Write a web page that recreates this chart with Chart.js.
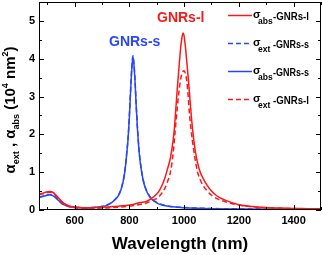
<!DOCTYPE html>
<html>
<head>
<meta charset="utf-8">
<script src="https://cdn.jsdelivr.net/npm/chart.js@4"></script>
<style>
  html, body { margin: 0; padding: 0; background: #fff; }
  #wrap { width: 323px; height: 255px; }
</style>
</head>
<body>
<div id="wrap"><canvas id="chart" width="323" height="255"></canvas></div>
<script>
// wavelength grids (nm)
const wlS = [470, 480, 490, 500, 510, 520, 530, 540, 550, 560, 580, 600, 620, 640, 660, 680, 700, 720, 740, 750,
  760, 770, 780, 785, 790, 795, 800, 805, 810, 813, 816, 820, 825, 830, 835, 840, 850, 860, 870, 880,
  900, 920, 950, 1000, 1050, 1100, 1200, 1300, 1400, 1500];
const wlL = [470, 480, 490, 500, 510, 520, 530, 540, 550, 560, 580, 600, 620, 640, 660, 680, 700, 720, 740, 760,
  780, 800, 820, 840, 860, 880, 900, 910, 920, 930, 940, 950, 960, 965, 970, 975, 980, 985, 990, 996,
  1000, 1005, 1010, 1015, 1020, 1025, 1030, 1040, 1050, 1060, 1070, 1080, 1100, 1120, 1150, 1200, 1250, 1300, 1350, 1400,
  1450, 1500];

// cross sections (10^4 nm^2)
const absS = [0.33, 0.35, 0.37, 0.39, 0.40, 0.38, 0.33, 0.26, 0.19, 0.14, 0.09, 0.07, 0.06, 0.055, 0.06, 0.07, 0.09, 0.13, 0.22, 0.29,
  0.38, 0.55, 0.85, 1.1, 1.45, 1.85, 2.45, 3.2, 3.85, 4.05, 3.9, 3.5, 2.75, 2.1, 1.6, 1.25, 0.8, 0.55, 0.4, 0.3,
  0.19, 0.13, 0.09, 0.06, 0.045, 0.035, 0.025, 0.018, 0.014, 0.012];
const extS = [0.34, 0.36, 0.38, 0.40, 0.41, 0.39, 0.34, 0.27, 0.20, 0.15, 0.095, 0.075, 0.065, 0.06, 0.065, 0.075, 0.095, 0.14, 0.23, 0.30,
  0.39, 0.56, 0.87, 1.12, 1.48, 1.88, 2.48, 3.24, 3.89, 4.08, 3.93, 3.53, 2.78, 2.13, 1.62, 1.27, 0.82, 0.56, 0.41, 0.31,
  0.2, 0.14, 0.095, 0.065, 0.05, 0.04, 0.03, 0.022, 0.017, 0.015];
const absL = [0.42, 0.44, 0.46, 0.48, 0.49, 0.47, 0.41, 0.33, 0.25, 0.18, 0.11, 0.08, 0.065, 0.06, 0.06, 0.065, 0.07, 0.08, 0.09, 0.1,
  0.115, 0.13, 0.16, 0.2, 0.22, 0.3, 0.42, 0.52, 0.66, 0.85, 1.1, 1.38, 1.85, 2.2, 2.7, 3.2, 3.65, 4.1, 4.45, 4.68,
  4.6, 4.3, 3.9, 3.5, 3.05, 2.6, 2.2, 1.6, 1.22, 0.98, 0.83, 0.7, 0.5, 0.37, 0.26, 0.14, 0.09, 0.065, 0.05, 0.04,
  0.035, 0.03];
const extL = [0.40, 0.42, 0.44, 0.46, 0.47, 0.45, 0.39, 0.31, 0.23, 0.16, 0.09, 0.06, 0.045, 0.04, 0.04, 0.045, 0.05, 0.055, 0.065, 0.075,
  0.085, 0.1, 0.12, 0.15, 0.18, 0.24, 0.31, 0.37, 0.46, 0.58, 0.76, 1.0, 1.5, 1.9, 2.3, 2.7, 3.05, 3.35, 3.55, 3.67,
  3.68, 3.6, 3.4, 3.0, 2.5, 2.15, 1.85, 1.35, 0.98, 0.78, 0.64, 0.54, 0.39, 0.3, 0.22, 0.13, 0.085, 0.06, 0.045, 0.038,
  0.032, 0.028];

const xTicks = [600, 800, 1000, 1200, 1400];
const yTicks = [0, 1, 2, 3, 4, 5];

const RED = "rgb(250, 25, 25)";
const BLUE = "rgb(40, 70, 250)";
const FONT = "'Liberation Sans', Arial, sans-serif";

const pts = (xs, ys) => xs.map((x, i) => ({ x: x, y: ys[i] }));

// legend entries in the order shown on the figure
const legendItems = [
  { color: RED, dash: [], sub: "abs", name: "-GNRs-l" },
  { color: BLUE, dash: [5, 3], sub: "ext", name: "-GNRs-s" },
  { color: BLUE, dash: [], sub: "abs", name: "-GNRs-s" },
  { color: RED, dash: [5, 3], sub: "ext", name: "-GNRs-l" },
];

function drawPieces(ctx, pieces, x, y) {
  // pieces: [text, size, dy]
  let cx = x;
  pieces.forEach(p => {
    ctx.font = "bold " + p[1] + "px " + FONT;
    ctx.fillText(p[0], cx, y + p[2]);
    cx += ctx.measureText(p[0]).width;
  });
  return cx - x;
}

function piecesWidth(ctx, pieces) {
  let w = 0;
  pieces.forEach(p => {
    ctx.font = "bold " + p[1] + "px " + FONT;
    w += ctx.measureText(p[0]).width;
  });
  return w;
}

const decorations = {
  id: "decorations",
  afterDraw(chart) {
    const ctx = chart.ctx;
    const a = chart.chartArea;
    const xs = chart.scales.x;
    const ys = chart.scales.y;
    ctx.save();
    ctx.strokeStyle = "#000";
    ctx.fillStyle = "#000";
    ctx.lineWidth = 1;
    ctx.setLineDash([]);

    // frame
    ctx.strokeRect(a.left + 0.5, a.top + 0.5, a.right - a.left - 1, a.bottom - a.top - 1);

    // inward ticks, all four sides
    ctx.beginPath();
    for (let v = 500; v <= 1500; v += 100) {
      const px = Math.round(xs.getPixelForValue(v)) + 0.5;
      const len = xTicks.includes(v) ? 5 : 3;
      ctx.moveTo(px, a.bottom); ctx.lineTo(px, a.bottom - len);
      ctx.moveTo(px, a.top); ctx.lineTo(px, a.top + len);
    }
    for (let v = 0; v <= 5.5; v += 0.5) {
      const py = Math.round(ys.getPixelForValue(v)) + 0.5;
      const len = yTicks.includes(v) ? 5 : 3;
      ctx.moveTo(a.left, py); ctx.lineTo(a.left + len, py);
      ctx.moveTo(a.right, py); ctx.lineTo(a.right - len, py);
    }
    ctx.stroke();

    // tick labels
    ctx.font = "bold 11px " + FONT;
    ctx.textAlign = "center";
    ctx.textBaseline = "alphabetic";
    xTicks.forEach(v => ctx.fillText(String(v), xs.getPixelForValue(v), 224));
    ctx.textAlign = "right";
    ctx.textBaseline = "middle";
    yTicks.forEach(v => ctx.fillText(String(v), 35, ys.getPixelForValue(v)));

    // x title
    ctx.textAlign = "center";
    ctx.textBaseline = "alphabetic";
    ctx.font = "bold 17px " + FONT;
    ctx.fillText("Wavelength (nm)", 180, 249);

    // y title (rotated, with sub/superscripts)
    const yPieces = [
      ["\u03b1", 15, 0], ["ext", 9, 4], [" , ", 15, 0], ["\u03b1", 15, 0], ["abs", 9, 4],
      [" (10", 15, 0], ["4", 9, -7], [" nm", 15, 0], ["2", 9, -7], [")", 15, 0]
    ];
    ctx.save();
    ctx.translate(15, 110);
    ctx.rotate(-Math.PI / 2);
    ctx.textAlign = "left";
    const tw = piecesWidth(ctx, yPieces);
    drawPieces(ctx, yPieces, -tw / 2, 0);
    ctx.restore();

    // peak labels
    ctx.textAlign = "left";
    ctx.font = "bold 14px " + FONT;
    ctx.fillStyle = BLUE;
    ctx.fillText("GNRs-s", 109, 46);
    ctx.fillStyle = RED;
    ctx.fillText("GNRs-l", 157, 22);

    // legend
    const rows = [15, 43, 71, 99];
    legendItems.forEach((it, i) => {
      const y = rows[i];
      ctx.strokeStyle = it.color;
      ctx.lineWidth = 1.5;
      ctx.setLineDash(it.dash);
      ctx.beginPath();
      ctx.moveTo(228, y + 0.5);
      ctx.lineTo(252, y + 0.5);
      ctx.stroke();
      ctx.setLineDash([]);
      ctx.fillStyle = "#000";
      ctx.font = "bold 11px " + FONT;
      ctx.fillText("\u03c3", 253, y + 3);
      ctx.font = "bold 8.5px " + FONT;
      ctx.fillText(it.sub, 258, y + 9, 15);
      ctx.font = "bold 11px " + FONT;
      ctx.fillText(it.name, 273, y + 5, 36);
    });

    ctx.restore();
  }
};

const lineDs = (label, data, color, dash, order) => ({
  label: label,
  data: data,
  borderColor: color,
  borderWidth: 1.5,
  borderDash: dash,
  pointRadius: 0,
  fill: false,
  cubicInterpolationMode: "monotone",
  order: order,
});

new Chart(document.getElementById("chart"), {
  type: "line",
  data: {
    datasets: [
      lineDs("\u03c3ext-GNRs-s", pts(wlS, extS), BLUE, [5, 3], 4),
      lineDs("\u03c3abs-GNRs-s", pts(wlS, absS), BLUE, [], 3),
      lineDs("\u03c3ext-GNRs-l", pts(wlL, extL), RED, [5, 3], 2),
      lineDs("\u03c3abs-GNRs-l", pts(wlL, absL), RED, [], 1),
    ],
  },
  options: {
    responsive: false,
    animation: false,
    layout: { padding: { left: 39, top: 2, right: 2, bottom: 45 } },
    scales: {
      x: { type: "linear", min: 470, max: 1500, display: false },
      y: { type: "linear", min: 0, max: 5.5, display: false },
    },
    plugins: {
      legend: { display: false },
      tooltip: { enabled: false },
    },
  },
  plugins: [decorations],
});
</script>
</body>
</html>
